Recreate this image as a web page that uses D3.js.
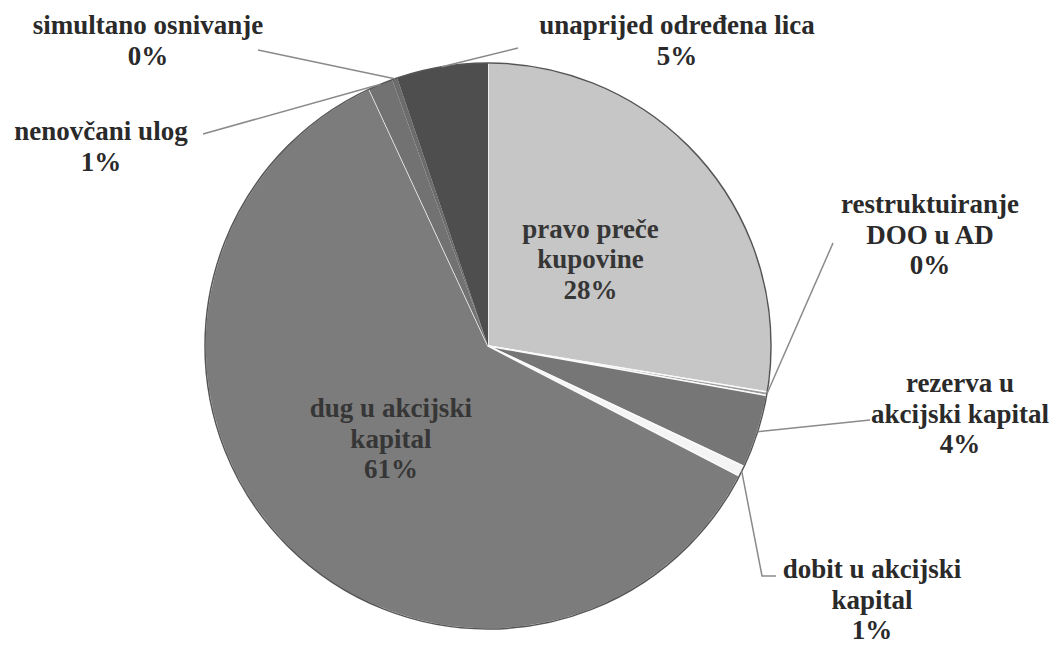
<!DOCTYPE html>
<html>
<head>
<meta charset="utf-8">
<script src="https://cdn.jsdelivr.net/npm/d3@7"></script>
<style>
  body { margin: 0; background: #fff; }
  svg text { font-family: "Liberation Serif", serif; font-weight: bold; }
</style>
</head>
<body>
<svg id="PieChart" width="1057" height="646"></svg>
<script>
// slices clockwise from 12 o'clock (shares in %)
const categories = [
  'pravo preče kupovine',
  'restruktuiranje DOO u AD',
  'rezerva u akcijski kapital',
  'dobit u akcijski kapital',
  'dug u akcijski kapital',
  'nenovčani ulog',
  'simultano osnivanje',
  'unaprijed određena lica'
];
const shares = [27.6, 0.2, 4.2, 0.6, 60.5, 1.4, 0.3, 5.2];
// how each label is broken into lines
const labelLines = [
  ['pravo preče', 'kupovine'],
  ['restruktuiranje', 'DOO u AD'],
  ['rezerva u', 'akcijski kapital'],
  ['dobit u akcijski', 'kapital'],
  ['dug u akcijski', 'kapital'],
  ['nenovčani ulog'],
  ['simultano osnivanje'],
  ['unaprijed određena lica']
];
const fills = ['#c6c6c6', '#9a9a9a', '#767676', '#f4f4f4', '#7c7c7c', '#727272', '#6c6c6c', '#4e4e4e'];

// layout of the outside labels: centre x, first baseline, leader end points (null = inside)
const labelLayout = [
  null,
  { x: 930, y: 213, leader: [[833, 243]] },
  { x: 960, y: 392, leader: [[870, 420]] },
  { x: 872, y: 578, leader: [[762, 576], [776, 576]] },
  null,
  { x: 101, y: 140, leader: [[203, 134]] },
  { x: 148, y: 34, leader: [[258, 50]] },
  { x: 677, y: 34, leader: [[518, 48]] }
];

const cx = 488, cy = 346, radius = 283, lineH = 30.5;
const svg = d3.select('#PieChart');
const g = svg.append('g').attr('transform', `translate(${cx},${cy})`);

const pie = d3.pie().sort(null).value((d) => d);
const arcs = pie(shares);
const arc = d3.arc().innerRadius(0).outerRadius(radius);

g.selectAll('path.slice')
  .data(arcs)
  .enter()
  .append('path')
  .attr('class', 'slice')
  .attr('d', arc)
  .attr('fill', (d, i) => fills[i])
  .attr('stroke', (d, i) => (i >= 5 ? 'none' : '#fafafa'))
  .attr('stroke-width', 1.5);

// dark outer rim, like the scanned print
g.append('circle')
  .attr('r', radius)
  .attr('fill', 'none')
  .attr('stroke', '#555')
  .attr('stroke-width', 1.5);

// leader lines
const edgePoint = (d) => {
  const a = (d.startAngle + d.endAngle) / 2;
  return [cx + radius * Math.sin(a), cy - radius * Math.cos(a)];
};
arcs.forEach((d, i) => {
  const lay = labelLayout[i];
  if (!lay) return;
  const pts = [edgePoint(d)].concat(lay.leader);
  svg.append('path')
    .attr('d', d3.line()(pts))
    .attr('fill', 'none')
    .attr('stroke', '#8a8a8a')
    .attr('stroke-width', 1.5);
});

// labels
arcs.forEach((d, i) => {
  const lay = labelLayout[i];
  const lines = labelLines[i].concat([Math.round(shares[i]) + '%']);
  let x, y0;
  if (lay) {
    x = lay.x; y0 = lay.y;
  } else {
    const c = d3.arc().innerRadius(0).outerRadius(radius * 0.95).centroid(d);
    x = cx + c[0];
    y0 = cy + c[1] - lineH + 9;
  }
  const t = svg.append('text')
    .attr('text-anchor', 'middle')
    .attr('font-size', 27)
    .attr('fill', lay ? '#2a2a2a' : '#363636');
  lines.forEach((ln, k) => {
    t.append('tspan').attr('x', x).attr('y', y0 + k * lineH).text(ln);
  });
});
</script>
</body>
</html>
